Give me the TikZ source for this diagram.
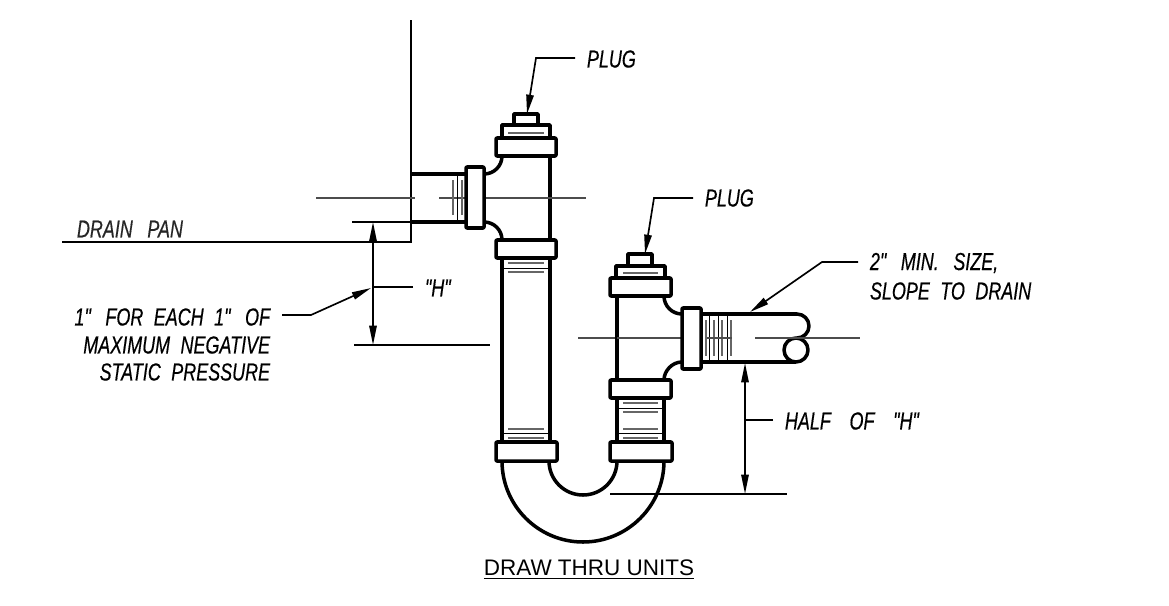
\documentclass[tikz,border=0pt]{standalone}
\usepackage{fontspec}
\setmainfont{Liberation Sans}
\newfontfamily\cadfont[FakeStretch=0.73,WordSpace=2.1,FakeBold=0.4]{Liberation Sans}
\usetikzlibrary{arrows.meta}

\tikzset{
  pipe/.style={line width=2pt,line join=round,fill=white},
  pan/.style={line width=1.4pt},
  dimline/.style={line width=0.95pt},
  thinblk/.style={line width=0.45pt},
  centerline/.style={line width=0.6pt,color=black!70},
  threadline/.style={line width=0.75pt,color=black!60},
  leader/.style={line width=0.95pt,-{Triangle[length=11pt,width=4.2pt]}},
  dimarrow/.style={line width=0.95pt,{Triangle[length=11pt,width=4.2pt]}-{Triangle[length=11pt,width=4.2pt]}},
  label/.style={font=\cadfont\itshape\fontsize{14}{16}\selectfont,inner xsep=6.8pt,inner ysep=0pt,outer sep=0pt},
}

\begin{document}
\begin{tikzpicture}[x=0.02cm,y=-0.02cm]
  \path[use as bounding box] (0,0) rectangle (1169,605);

  % wall and pan
  \draw[pan] (411,20) -- (411,242) -- (62,242);

  % center lines
  \draw[centerline] (316,198) -- (415,198);
  \draw[centerline] (578,338) -- (682,338);

  % left tee
  \draw[pipe,fill=none] (411,174) -- (466,174);
  \draw[pipe,fill=none] (411,222) -- (466,222);
  \draw[pipe,fill=none] (550,156) -- (550,240);
  \draw[pipe,fill=none] (484,174) .. controls (494,174) and (502,166) .. (502,156);
  \draw[pipe,fill=none] (484,222) .. controls (494,222) and (502,230) .. (502,240);
  \draw[centerline] (439,198) -- (586,198);
  \draw[threadline] (453,180) -- (453,215);
  \draw[threadline] (462,180) -- (462,215);
  \draw[thinblk] (457,174) -- (457,222);
  \draw[pipe,rounded corners=0.5pt] (466,167) rectangle (484,228);

  % left plug
  \draw[pipe] (514,114) rectangle (538,125);
  \draw[pipe] (502,125) rectangle (550,138);
  \draw[threadline] (508,133) -- (544,133);
  \draw[pipe,rounded corners=0.5pt] (496,138) rectangle (556,156);
  \draw[pipe,rounded corners=0.5pt] (496,240) rectangle (556,258);

  % left riser
  \draw[pipe,fill=none] (502,258) -- (502,442);
  \draw[pipe,fill=none] (550,258) -- (550,442);
  \draw[threadline] (508,263) -- (544,263);
  \draw[threadline] (508,272) -- (544,272);
  \draw[thinblk] (502,268) -- (550,268);
  \draw[threadline] (508,429) -- (544,429);
  \draw[threadline] (508,438) -- (544,438);
  \draw[thinblk] (502,433) -- (550,433);

  % U bend
  \draw[pipe,fill=none] (502,461) .. controls (502,505.7) and (538.3,542) .. (583,542)
    .. controls (627.7,542) and (664,505.7) .. (664,461);
  \draw[pipe,fill=none] (549,461) .. controls (549,479.8) and (564.2,495) .. (583,495)
    .. controls (601.8,495) and (617,479.8) .. (617,461);
  \draw[pipe,rounded corners=0.5pt] (496,442) rectangle (557,461);
  \draw[pipe,rounded corners=0.5pt] (610,442) rectangle (672,461);

  % right riser
  \draw[pipe,fill=none] (617,398) -- (617,442);
  \draw[pipe,fill=none] (664,398) -- (664,442);
  \draw[threadline] (623,403) -- (658,403);
  \draw[threadline] (623,412) -- (658,412);
  \draw[thinblk] (617,408) -- (664,408);
  \draw[threadline] (623,429) -- (658,429);
  \draw[threadline] (623,438) -- (658,438);
  \draw[thinblk] (617,433) -- (664,433);

  % right tee
  \draw[pipe,fill=none] (617,296) -- (617,380);
  \draw[pipe,fill=none] (664,296) .. controls (664,306) and (672,314) .. (682,314);
  \draw[pipe,fill=none] (664,380) .. controls (664,371) and (672,362) .. (682,362);
  \draw[centerline] (617,338) -- (682,338);
  \draw[pipe,rounded corners=0.5pt] (610,380) rectangle (671,398);

  % right plug
  \draw[pipe] (628,254) rectangle (652,266);
  \draw[pipe] (616,266) rectangle (665,278);
  \draw[threadline] (623,273) -- (658,273);
  \draw[pipe,rounded corners=0.5pt] (610,278) rectangle (671,296);

  % outlet
  \draw[pipe,fill=none] (701,314) -- (797,314) .. controls (803.6,314) and (809,319.4) .. (809,326)
    .. controls (809,332.6) and (803.6,338) .. (797,338);
  \draw[pipe,fill=none] (701,362) -- (796,362);
  \draw[pipe] (796,350) circle [radius=12];
  \draw[threadline] (706,320) -- (706,356);
  \draw[threadline] (714,320) -- (714,356);
  \draw[threadline] (722,320) -- (722,356);
  \draw[threadline] (731,320) -- (731,356);
  \draw[thinblk] (709,314) -- (709,362);
  \draw[thinblk] (718,314) -- (718,362);
  \draw[thinblk] (727,314) -- (727,362);
  \draw[centerline] (707,338) -- (732,338);
  \draw[centerline] (755,338) -- (860,338);
  \draw[pipe,rounded corners=0.5pt] (682,308) rectangle (701,369);

  % dimensions
  \coordinate (hTop) at (373,222);
  \coordinate (hBot) at (373,345);
  \coordinate (hMid) at (373,287);
  \coordinate (hLeft) at (371,288);
  \coordinate (halfTop) at (745,363);
  \coordinate (halfBot) at (745,494);
  \coordinate (halfMid) at (745,420);
  \draw[dimline] (352,222) -- (411,222);
  \draw[dimline] (354,345) -- (490,345);
  \draw[dimline] (610,494) -- (787,494);
  \draw[dimarrow] (hTop) -- (hBot);
  \draw[dimarrow] (halfTop) -- (halfBot);

  % labels
  \node[label,anchor=west] (plugLeft) at (575,59) {PLUG};
  \node[label,anchor=west] (plugRight) at (693,198) {PLUG};
  \node[label,anchor=west] (minSize) at (858,263) {2"\, MIN.\, SIZE,};
  \node[label,anchor=west] (slope) at (858,291) {SLOPE TO DRAIN};
  \node[label,anchor=west] (hLabel) at (413,288) {"H"};
  \node[label,anchor=west] (halfLabel) at (773,421) {HALF\,\, OF\,\, "H"};
  \node[label,anchor=east] (eachInch) at (282,317) {1"\, FOR EACH 1"\, OF};
  \node[label,anchor=east] (maxNeg) at (282,345) {MAXIMUM NEGATIVE};
  \node[label,anchor=east] (staticP) at (282,372) {STATIC PRESSURE};
  \node[label,anchor=west,color=black!85] (drainPan) at (65,229) {DRAIN\, PAN};
  \node[anchor=center,inner sep=0pt,font=\fontsize{12.8}{14}\selectfont] (title) at (589,570) {\underline{DRAW THRU UNITS}};

  % leaders
  \coordinate (kinkA) at (536,58);
  \coordinate (kinkB) at (654,198);
  \coordinate (kinkC) at (822,262);
  \coordinate (kinkD) at (311,315);
  \draw[leader] (plugLeft.west |- kinkA) -- (kinkA) -- (527,114);
  \draw[leader] (plugRight.west) -- (kinkB) -- (645,254);
  \draw[leader] (minSize.west |- kinkC) -- (kinkC) -- (750,312);
  \draw[leader] (eachInch.east |- kinkD) -- (kinkD) -- (hLeft);
  \draw[dimline] (hLabel.west |- hMid) -- (hMid);
  \draw[dimline] (halfLabel.west |- halfMid) -- (halfMid);
\end{tikzpicture}
\end{document}
